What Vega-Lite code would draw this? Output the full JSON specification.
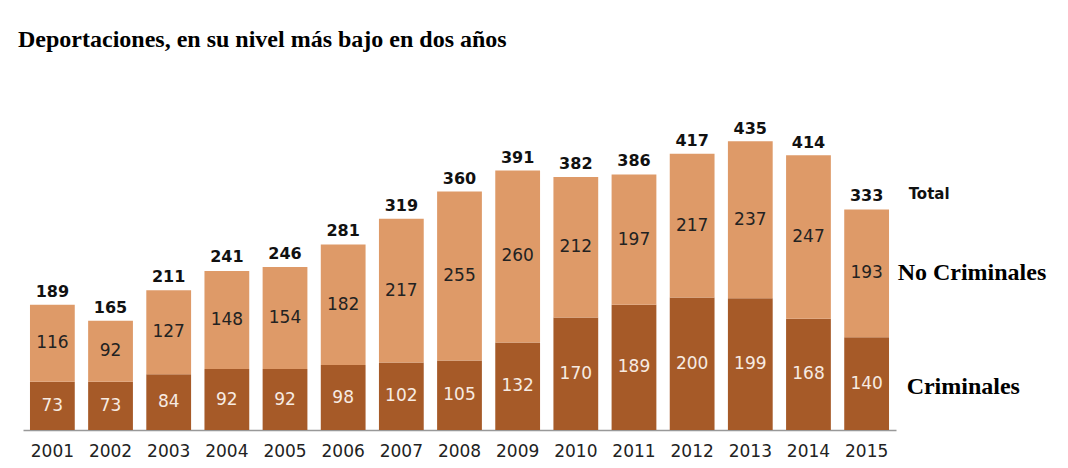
{
  "$schema": "https://vega.github.io/schema/vega-lite/v6.json",
  "width": 873,
  "height": 298,
  "autosize": {"type": "none"},
  "padding": {"left": 23, "top": 132, "right": 172, "bottom": 38},
  "background": "white",
  "config": {"view": {"stroke": null}},
  "title": {
    "text": "Deportaciones, en su nivel más bajo en dos años",
    "anchor": "start",
    "font": "Liberation Serif",
    "fontSize": 24,
    "fontWeight": "bold",
    "color": "#000000",
    "baseline": "alphabetic",
    "offset": 50,
    "dx": -5
  },
  "data": {
    "values": [
      {"year": "2001", "Criminales": 73, "No Criminales": 116, "total": 189},
      {"year": "2002", "Criminales": 73, "No Criminales": 92, "total": 165},
      {"year": "2003", "Criminales": 84, "No Criminales": 127, "total": 211},
      {"year": "2004", "Criminales": 92, "No Criminales": 148, "total": 241},
      {"year": "2005", "Criminales": 92, "No Criminales": 154, "total": 246},
      {"year": "2006", "Criminales": 98, "No Criminales": 182, "total": 281},
      {"year": "2007", "Criminales": 102, "No Criminales": 217, "total": 319},
      {"year": "2008", "Criminales": 105, "No Criminales": 255, "total": 360},
      {"year": "2009", "Criminales": 132, "No Criminales": 260, "total": 391},
      {"year": "2010", "Criminales": 170, "No Criminales": 212, "total": 382},
      {"year": "2011", "Criminales": 189, "No Criminales": 197, "total": 386},
      {"year": "2012", "Criminales": 200, "No Criminales": 217, "total": 417},
      {"year": "2013", "Criminales": 199, "No Criminales": 237, "total": 435},
      {"year": "2014", "Criminales": 168, "No Criminales": 247, "total": 414},
      {"year": "2015", "Criminales": 140, "No Criminales": 193, "total": 333}
    ]
  },
  "encoding": {
    "x": {
      "field": "year",
      "type": "ordinal",
      "scale": {"paddingInner": 0.23, "paddingOuter": 0.12},
      "axis": {
        "title": null,
        "labelAngle": 0,
        "ticks": false,
        "labelFont": "DejaVu Sans",
        "labelFontSize": 17,
        "labelColor": "#222222",
        "labelPadding": 13,
        "domainColor": "#999999",
        "domainWidth": 1.5
      }
    }
  },
  "layer": [
    {
      "transform": [{"fold": ["Criminales", "No Criminales"], "as": ["tipo", "valor"]}],
      "mark": {"type": "bar"},
      "encoding": {
        "y": {"field": "valor", "type": "quantitative", "stack": "zero", "scale": {"domain": [0, 450]}, "axis": null},
        "color": {
          "field": "tipo",
          "type": "nominal",
          "scale": {"domain": ["Criminales", "No Criminales"], "range": ["#A65A28", "#DE9A68"]},
          "legend": null
        },
        "order": {"field": "tipo", "sort": "ascending"}
      }
    },
    {
      "transform": [{"fold": ["Criminales", "No Criminales"], "as": ["tipo", "valor"]}],
      "mark": {"type": "text", "font": "DejaVu Sans", "fontSize": 17, "baseline": "middle", "align": "center"},
      "encoding": {
        "y": {"field": "valor", "type": "quantitative", "stack": "zero", "bandPosition": 0.5},
        "detail": {"field": "tipo"},
        "order": {"field": "tipo", "sort": "ascending"},
        "text": {"field": "valor", "type": "quantitative"},
        "color": {"condition": {"test": "datum.tipo === 'Criminales'", "value": "#F7EBE2"}, "value": "#222222"}
      }
    },
    {
      "mark": {"type": "text", "font": "DejaVu Sans", "fontSize": 16, "fontWeight": "bold", "baseline": "alphabetic", "align": "center", "dy": -8, "color": "#111111"},
      "encoding": {
        "y": {"field": "total", "type": "quantitative"},
        "text": {"field": "total", "type": "quantitative"}
      }
    },
    {
      "transform": [{"filter": "datum.year === '2015'"}],
      "mark": {"type": "text", "font": "DejaVu Sans", "fontSize": 15, "fontWeight": "bold", "baseline": "alphabetic", "align": "left", "dx": 42, "dy": -10, "color": "#111111"},
      "encoding": {
        "y": {"field": "total", "type": "quantitative"},
        "text": {"value": "Total"}
      }
    },
    {
      "transform": [
        {"filter": "datum.year === '2015'"},
        {"fold": ["Criminales", "No Criminales"], "as": ["tipo", "valor"]}
      ],
      "mark": {"type": "text", "font": "Liberation Serif", "fontSize": 24, "fontWeight": "bold", "baseline": "middle", "align": "left", "dx": 31, "color": "#000000"},
      "encoding": {
        "y": {"field": "valor", "type": "quantitative", "stack": "zero", "bandPosition": 0.5},
        "detail": {"field": "tipo"},
        "order": {"field": "tipo", "sort": "ascending"},
        "text": {"field": "tipo", "type": "nominal"},
        "opacity": {"condition": {"test": "datum.tipo === 'No Criminales'", "value": 1}, "value": 0}
      }
    },
    {
      "transform": [
        {"filter": "datum.year === '2015'"},
        {"fold": ["Criminales", "No Criminales"], "as": ["tipo", "valor"]}
      ],
      "mark": {"type": "text", "font": "Liberation Serif", "fontSize": 24, "fontWeight": "bold", "baseline": "middle", "align": "left", "dx": 40, "dy": 3, "color": "#000000"},
      "encoding": {
        "y": {"field": "valor", "type": "quantitative", "stack": "zero", "bandPosition": 0.5},
        "detail": {"field": "tipo"},
        "order": {"field": "tipo", "sort": "ascending"},
        "text": {"field": "tipo", "type": "nominal"},
        "opacity": {"condition": {"test": "datum.tipo === 'Criminales'", "value": 1}, "value": 0}
      }
    }
  ]
}
